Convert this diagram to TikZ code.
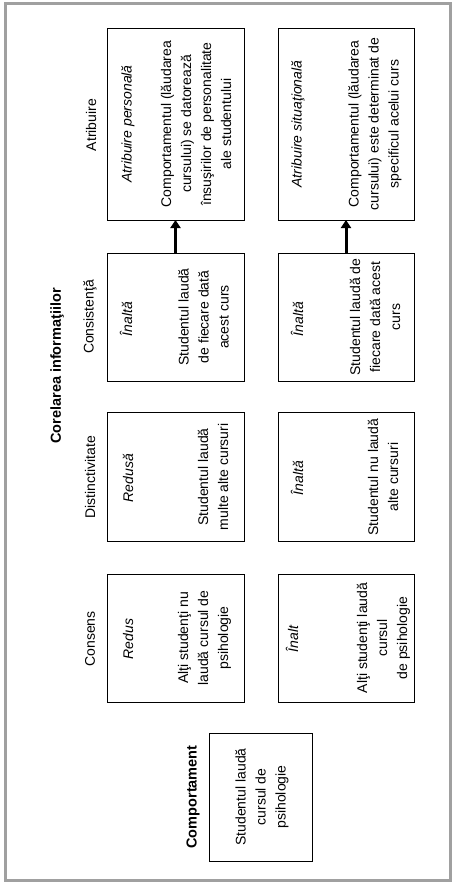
\documentclass[tikz,border=0pt]{standalone}
\usepackage{fontspec}
\setmainfont{Liberation Sans}
\usetikzlibrary{arrows.meta}
\definecolor{bordergray}{RGB}{160,160,160}
\begin{document}
\begin{tikzpicture}[x=1pt,y=-1pt,
  box/.style={draw=black,line width=0.9pt,inner sep=0pt,outer sep=0pt},
  txt/.style={rotate=90,inner sep=0pt,align=center,font=\fontsize{14}{20}\selectfont},
  itx/.style={txt,font=\fontsize{14}{20}\selectfont\itshape},
  btx/.style={txt,font=\fontsize{14.5}{20}\selectfont\bfseries},
  arr/.style={line width=3pt,-{Triangle[length=8pt,width=10pt]}}]
\useasboundingbox (0,0) rectangle (458,888);
\draw[bordergray,line width=3pt] (5.5,3.5) rectangle (450.5,880.5);

% boxes
\node[box,minimum width=137pt,minimum height=192pt] (ap) at (175.5,124) {};
\node[box,minimum width=136pt,minimum height=192pt] (as) at (346,124) {};
\node[box,minimum width=137pt,minimum height=128pt] (cl) at (175.5,317) {};
\node[box,minimum width=136pt,minimum height=128pt] (cr) at (346,317) {};
\node[box,minimum width=137pt,minimum height=129pt] (dl) at (175.5,476.5) {};
\node[box,minimum width=136pt,minimum height=129pt] (dr) at (346,476.5) {};
\node[box,minimum width=137pt,minimum height=128pt] (el) at (175.5,638) {};
\node[box,minimum width=136pt,minimum height=128pt] (er) at (346,638) {};
\node[box,minimum width=103pt,minimum height=128pt] (comp) at (260.5,797) {};

% headings
\node[btx] (title) at (57,366) {Corelarea informaţiilor};
\node[txt] (hatr) at (91,125) {Atribuire};
\node[txt] (hcons) at (90,317) {Consistenţă};
\node[txt] (hdist) at (90,477) {Distinctivitate};
\node[txt] (hcens) at (90,639) {Consens};
\node[btx] (hcomp) at (193,797) {Comportament};

% Atribuire
\node[itx] (ap-i) at (128,124) {Atribuire personală};
\node[txt] (ap-t) at (196,124) {Comportamentul (lăudarea\\cursului) se datorează\\însuşirilor de personalitate\\ale studentului};
\node[itx] (as-i) at (298,124) {Atribuire situaţională};
\node[txt] (as-t) at (375,124) {Comportamentul (lăudarea\\cursului) este determinat de\\specificul acelui curs};

% Consistenta
\node[itx] (cl-i) at (126,319) {Înaltă};
\node[txt] (cl-t) at (203.5,317) {Studentul laudă\\de fiecare dată\\acest curs};
\node[itx] (cr-i) at (297,319) {Înaltă};
\node[txt] (cr-t) at (375,317) {Studentul laudă de\\fiecare dată acest\\curs};

% Distinctivitate
\node[itx] (dl-i) at (128,478) {Redusă};
\node[txt] (dl-t) at (213,477) {Studentul laudă\\multe alte cursuri};
\node[itx] (dr-i) at (297,478) {Înaltă};
\node[txt] (dr-t) at (383,477) {Studentul nu laudă\\alte cursuri};

% Consens
\node[itx] (el-i) at (128,639) {Redus};
\node[txt] (el-t) at (204.5,638) {Alţi studenţi nu\\laudă cursul de\\psihologie};
\node[itx] (er-i) at (292,639) {Înalt};
\node[txt] (er-t) at (383.5,638) {Alţi studenţi laudă\\cursul\\de psihologie};

% Comportament
\node[txt] (comp-t) at (262,797) {Studentul laudă\\cursul de\\psihologie};

% arrows
\draw[arr] (cl.north) -- (ap.south);
\draw[arr] (cr.north) -- (as.south);
\end{tikzpicture}
\end{document}
